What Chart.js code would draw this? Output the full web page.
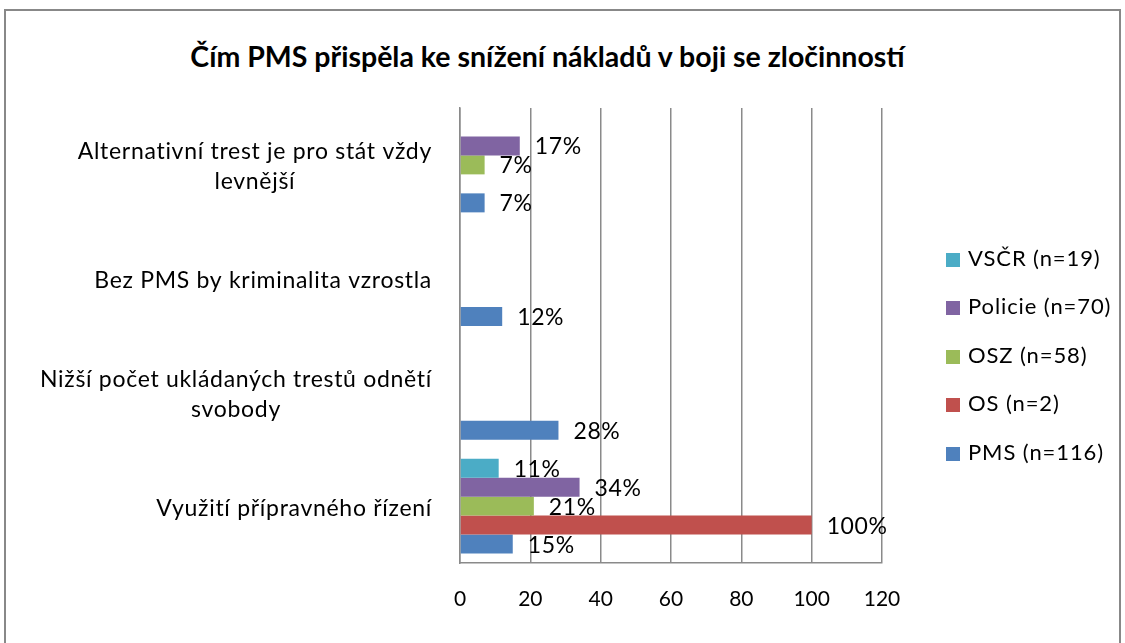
<!DOCTYPE html>
<html lang="cs">
<head>
<meta charset="utf-8">
<title>Čím PMS přispěla ke snížení nákladů v boji se zločinností</title>
<script src="https://cdn.jsdelivr.net/npm/chart.js@4.4.1/dist/chart.umd.min.js"></script>
<style>
  html, body { margin: 0; padding: 0; background: #fff; }
  body { width: 1125px; height: 643px; position: relative; overflow: hidden; font-family: Lato, sans-serif; }
  #frame { position: absolute; left: 4px; top: 9px; width: 1117px; height: 700px; border: 2px solid #888; box-sizing: border-box; }
  #box { position: absolute; left: 0; top: 0; width: 1125px; height: 643px; }
  h1 { position: absolute; left: 0; top: 39px; width: 1095px; margin: 0; text-align: center;
       font: bold 28.5px Lato, sans-serif; line-height: 34px; color: #000; }
  #legend { position: absolute; left: 946px; top: 244px; margin: 0; padding: 0; list-style: none; }
  #legend li { height: 48.4px; line-height: 48.4px; font: 22px Lato, sans-serif; letter-spacing: 0.9px; color: #000; white-space: nowrap; }
  #legend span { display: inline-block; width: 14px; height: 14px; margin-right: 8px; vertical-align: -1px; }
</style>
</head>
<body>
<div id="frame"></div>
<h1 id="title"></h1>
<div id="box"><canvas id="chart" width="1125" height="643"></canvas></div>
<ul id="legend"></ul>
<script>
const TITLE = 'Čím PMS přispěla ke snížení nákladů v boji se zločinností';

const categories = [
  ['Alternativní trest je pro stát vždy', 'levnější'],
  'Bez PMS by kriminalita vzrostla',
  ['Nižší počet ukládaných trestů odnětí', 'svobody'],
  'Využití přípravného řízení'
];

const seriesNames  = ['VSČR (n=19)', 'Policie (n=70)', 'OSZ (n=58)', 'OS (n=2)', 'PMS (n=116)'];
const seriesColors = ['#4BACC6', '#8064A2', '#9BBB59', '#C0504D', '#4F81BD'];

const vscr    = [null, null, null, 11];
const policie = [17,   null, null, 34];
const osz     = [7,    null, null, 21];
const os      = [null, null, null, 100];
const pms     = [7,    12,   28,   15];

const xMin = 0, xMax = 120, xStep = 20;

const GRID = '#8a8a8a';
const FONT = 'Lato, sans-serif';

document.getElementById('title').textContent = TITLE;

// Legend
const legendEl = document.getElementById('legend');
seriesNames.forEach((name, i) => {
  const li = document.createElement('li');
  li.innerHTML = `<span style="background:${seriesColors[i]}"></span>${name}`;
  legendEl.appendChild(li);
});

// Category labels: block right-aligned, lines centred inside the block
const catLabels = {
  id: 'catLabels',
  afterDraw(chart) {
    const { ctx, scales: { y } } = chart;
    ctx.save();
    ctx.font = `23px ${FONT}`;
    ctx.letterSpacing = '0.7px';
    ctx.fillStyle = '#000';
    ctx.textAlign = 'center';
    ctx.textBaseline = 'middle';
    categories.forEach((c, i) => {
      const lines = Array.isArray(c) ? c : [c];
      const w  = Math.max(...lines.map(l => ctx.measureText(l).width));
      const cx = y.right - 28 - w / 2;
      const cy = y.getPixelForValue(i) + 2;
      lines.forEach((l, j) => ctx.fillText(l, cx, cy + (j - (lines.length - 1) / 2) * 30));
    });
    ctx.restore();
  }
};

// Value labels next to bar ends
const valueLabels = {
  id: 'valueLabels',
  afterDatasetsDraw(chart) {
    const { ctx } = chart;
    ctx.save();
    ctx.font = `23px ${FONT}`;
    ctx.letterSpacing = '0.6px';
    ctx.fillStyle = '#000';
    ctx.textAlign = 'left';
    ctx.textBaseline = 'middle';
    chart.data.datasets.forEach((ds, i) => {
      chart.getDatasetMeta(i).data.forEach((bar, j) => {
        const v = ds.data[j];
        if (v == null) return;
        ctx.fillText(v + '%', bar.x + 15, bar.y + 1);
      });
    });
    ctx.restore();
  }
};

const seriesData = [vscr, policie, osz, os, pms];

function draw() {
  new Chart(document.getElementById('chart'), {
    type: 'bar',
    data: {
      labels: categories,
      datasets: seriesNames.map((name, i) => ({
        label: name,
        data: seriesData[i],
        backgroundColor: seriesColors[i],
        borderWidth: 0,
        categoryPercentage: 0.835,
        barPercentage: 1
      }))
    },
    options: {
      indexAxis: 'y',
      responsive: false,
      animation: false,
      layout: { padding: { left: 0, right: 243, top: 108, bottom: 30 } },
      plugins: {
        legend: { display: false },
        title: { display: false },
        tooltip: { enabled: false }
      },
      scales: {
        x: {
          min: xMin,
          max: xMax,
          ticks: { stepSize: xStep, color: '#000', font: { family: FONT, size: 21 }, padding: 24 },
          grid: { color: GRID, lineWidth: 1.5, drawTicks: false },
          border: { color: GRID, width: 1.5 },
          afterFit: s => { s.height = 50; }
        },
        y: {
          ticks: { display: false },
          grid: { display: false },
          border: { color: GRID, width: 1.5 },
          afterFit: s => { s.width = 460; }
        }
      }
    },
    plugins: [catLabels, valueLabels]
  });
}

document.fonts.load(`23px ${FONT}`).then(draw, draw);
</script>
</body>
</html>
